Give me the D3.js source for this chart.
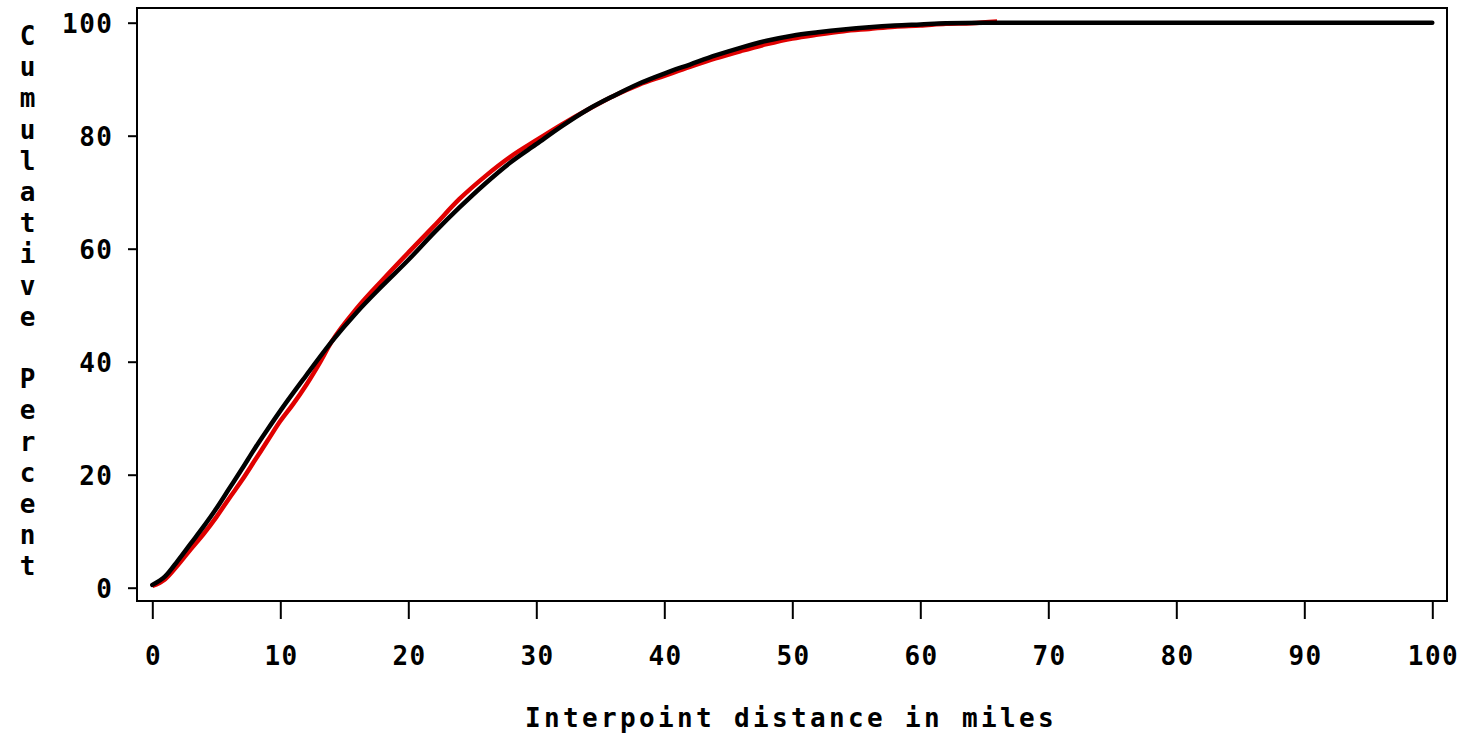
<!DOCTYPE html>
<html>
<head>
<meta charset="utf-8">
<script src="https://cdn.jsdelivr.net/npm/d3@7"></script>
<style>
  html, body { margin: 0; padding: 0; background: #fff; }
  svg { display: block; }
  text { font-family: "DejaVu Sans Mono", monospace; font-weight: bold; fill: #000; }
</style>
</head>
<body>
<svg id="chart" width="1465" height="736"></svg>
<script>
// ---- data ----
const xTicks = [0, 10, 20, 30, 40, 50, 60, 70, 80, 90, 100];
const yTicks = [0, 20, 40, 60, 80, 100];
const xTitle = "Interpoint distance in miles";
const yTitle = "Cumulative Percent";

// smooth (theoretical) cumulative curve, black
const fittedDist = [0, 1, 2, 3, 4, 5, 6, 7, 8, 9, 10, 12, 14, 16, 18, 20, 22, 24, 26, 28, 30, 32, 34, 36, 38, 40, 42, 44, 46, 48, 50, 52, 54, 56, 58, 60, 62, 65, 70, 80, 90, 100];
const fittedPct  = [0.5, 2, 4.8, 7.8, 10.8, 14, 17.5, 21, 24.6, 28, 31.3, 37.5, 43.5, 48.8, 53.5, 58, 62.8, 67.3, 71.5, 75.3, 78.5, 81.7, 84.6, 87, 89.2, 91, 92.6, 94.2, 95.6, 96.8, 97.7, 98.3, 98.8, 99.2, 99.5, 99.7, 99.9, 100, 100, 100, 100, 100];

// empirical cumulative curve, red
const empDist = [0, 1, 2, 3, 4, 5, 6, 7, 8, 9, 10, 11, 12, 13, 14, 16, 18, 20, 22, 24, 26, 28, 30, 32, 34, 36, 38, 40, 42, 44, 46, 48, 50, 52, 54, 56, 58, 60, 62, 64, 66];
const empPct  = [0.3, 1.5, 4, 6.8, 9.5, 12.5, 15.8, 19, 22.5, 26, 29.5, 32.5, 35.8, 39.5, 43.5, 49.5, 54.5, 59.3, 64, 68.8, 72.8, 76.3, 79.2, 82, 84.6, 87, 89, 90.6, 92.2, 93.7, 95, 96.2, 97.2, 97.9, 98.5, 98.9, 99.3, 99.5, 99.8, 99.9, 100.2];

// ---- drawing ----
const svg = d3.select("#chart");
const frame = { left: 137, right: 1447, top: 8, bottom: 601 };
const x = d3.scaleLinear().domain([0, 100]).range([152.3, 1432.3]);
const y = d3.scaleLinear().domain([0, 100]).range([587.7, 22.7]);

const fontSize = 26;

// frame
svg.append("rect")
  .attr("x", frame.left).attr("y", frame.top)
  .attr("width", frame.right - frame.left).attr("height", frame.bottom - frame.top)
  .attr("fill", "none").attr("stroke", "#000").attr("stroke-width", 2);

// y axis
const yAxis = svg.append("g")
  .attr("transform", `translate(${frame.left},0)`)
  .call(d3.axisLeft(y).tickValues(yTicks).tickSize(9).tickSizeOuter(0).tickPadding(0));
yAxis.select(".domain").remove();
yAxis.selectAll("line").attr("stroke", "#000").attr("stroke-width", 2);
yAxis.selectAll("text")
  .attr("x", -23.5)
  .attr("dy", "0.36em")
  .attr("font-size", fontSize)
  .attr("letter-spacing", 1.5)
  .attr("font-family", "DejaVu Sans Mono")
  .attr("font-weight", "bold")
  .attr("fill", "#000");

// x axis
const xAxis = svg.append("g")
  .attr("transform", `translate(0,${frame.bottom})`)
  .call(d3.axisBottom(x).tickValues(xTicks).tickSize(18).tickSizeOuter(0).tickPadding(0));
xAxis.select(".domain").remove();
xAxis.selectAll("line").attr("stroke", "#000").attr("stroke-width", 2);
xAxis.selectAll("text")
  .attr("y", 64)
  .attr("dy", 0)
  .attr("dx", 0.75)
  .attr("font-size", fontSize)
  .attr("letter-spacing", 1.5)
  .attr("font-family", "DejaVu Sans Mono")
  .attr("font-weight", "bold")
  .attr("fill", "#000");

// lines
const line = d3.line().x(d => x(d[0])).y(d => y(d[1])).curve(d3.curveMonotoneX);

svg.append("path")
  .datum(d3.zip(empDist, empPct))
  .attr("d", line)
  .attr("fill", "none").attr("stroke", "#e00000").attr("stroke-width", 4.5)
  .attr("stroke-linejoin", "round");

svg.append("path")
  .datum(d3.zip(fittedDist, fittedPct))
  .attr("d", line)
  .attr("fill", "none").attr("stroke", "#000").attr("stroke-width", 4.5)
  .attr("stroke-linejoin", "round").attr("stroke-linecap", "round");

// x title
svg.append("text")
  .attr("x", 525).attr("y", 727)
  .attr("font-size", fontSize)
  .attr("letter-spacing", 3.35)
  .text(xTitle);

// y title (stacked letters)
const yt = svg.append("g");
yTitle.split("").forEach((ch, i) => {
  yt.append("text")
    .attr("x", 27.5).attr("y", 45 + 31.2 * i)
    .attr("text-anchor", "middle")
    .attr("font-size", fontSize)
    .text(ch);
});
</script>
</body>
</html>
